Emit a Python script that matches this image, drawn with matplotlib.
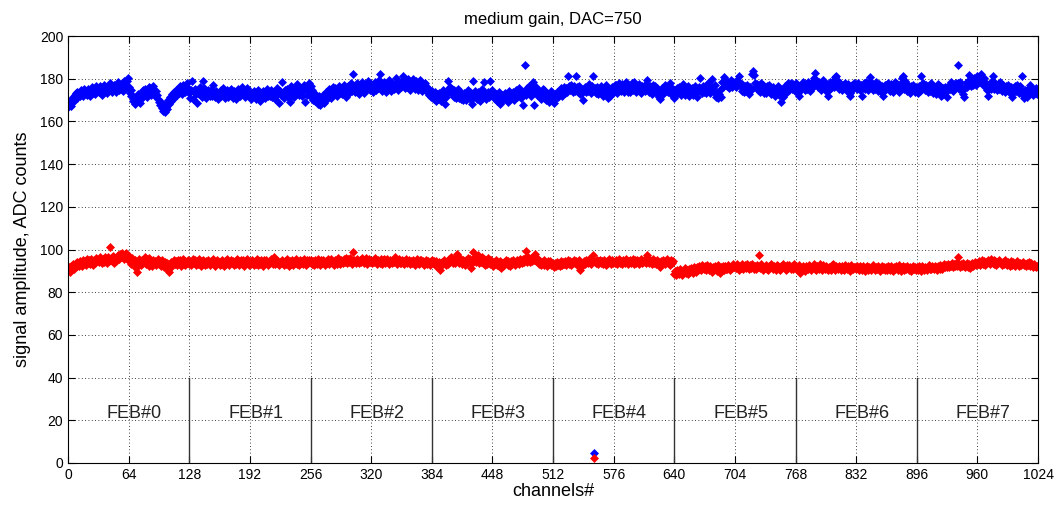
import numpy as np
import matplotlib.pyplot as plt

# signal amplitude per channel, medium gain, DAC=750 (32 channels per line)
blue_txt = """
166.8 168.2 169.5 167.1 170.3 171.6 169.8 172.4 173.1 171.2 174.0 172.7 173.5 171.9 174.6 173.2 172.1 175.3 173.8 174.4 172.6 175.1 173.9 171.8 174.7 176.2 173.4 175.0 174.1 172.9 176.8 174.3
175.2 173.6 176.4 174.8 172.5 175.9 177.1 174.2 175.6 173.3 176.7 174.9 178.2 175.4 173.8 176.1 174.5 177.3 175.8 173.9 176.6 178.4 174.7 176.9 175.1 177.6 174.3 178.9 176.2 175.5 179.1 180.4
176.3 173.2 171.8 174.5 172.1 169.4 170.8 168.3 171.5 169.9 172.7 170.2 168.8 173.4 171.1 174.6 172.9 175.2 173.7 171.4 174.8 176.1 173.3 175.5 172.6 174.2 176.8 173.9 171.7 174.4 172.3 170.6
169.2 167.5 168.9 166.3 165.1 167.8 164.2 166.6 168.4 165.7 170.1 168.2 171.3 169.5 172.8 170.7 173.6 171.9 174.9 172.4 175.3 173.1 176.5 174.2 172.7 177.1 175.4 173.8 176.2 174.6 178.0 175.7
173.5 171.2 174.8 178.8 170.6 173.9 175.2 172.7 168.5 174.1 172.8 176.3 173.0 171.5 174.4 179.0 175.6 173.7 170.9 172.5 174.9 173.3 171.8 174.6 172.1 177.2 173.8 171.3 174.2 172.6 170.4 173.5
172.4 174.7 171.9 173.6 175.8 172.3 170.8 173.1 174.5 171.6 173.9 172.2 175.1 173.4 171.2 174.3 172.7 170.5 173.8 175.4 172.1 174.0 171.7 173.3 176.0 172.8 174.6 171.4 173.2 175.5 172.5 174.1
172.9 170.7 173.4 171.8 174.2 172.5 170.3 173.7 171.1 174.8 172.4 169.6 173.0 171.5 174.1 172.2 170.9 173.6 175.3 171.7 173.2 172.0 174.6 171.3 173.8 172.6 170.4 174.3 172.1 175.7 173.1 168.6
174.2 172.4 178.5 173.5 171.2 174.7 172.8 175.4 173.1 170.9 168.9 176.6 172.7 174.9 173.3 171.6 175.2 173.8 177.5 174.1 172.3 175.7 173.6 171.8 174.5 176.9 169.0 175.3 172.6 174.8 178.1 175.0
176.4 171.3 174.6 170.2 173.1 169.5 172.4 170.8 168.1 171.7 167.9 170.3 169.2 172.5 168.6 171.4 173.8 170.6 174.2 172.1 175.3 173.4 171.2 174.7 176.1 172.8 175.5 173.6 171.9 174.3 176.8 173.1
175.2 172.7 174.9 177.3 173.5 175.8 171.6 174.1 176.4 173.2 175.7 178.1 174.4 182.0 176.3 173.9 175.6 177.8 174.2 172.9 176.1 174.7 178.3 175.1 173.4 176.9 174.5 177.2 175.3 179.0 176.2 174.6
177.4 175.1 173.8 176.6 178.5 174.9 177.1 175.5 179.2 182.3 176.8 174.3 177.6 175.2 178.7 176.1 173.7 177.9 175.4 179.6 176.5 174.2 178.1 176.9 175.3 177.7 180.2 176.4 174.8 178.3 176.0 177.5
175.9 179.1 181.5 177.3 175.6 178.6 176.2 179.8 177.1 174.9 178.4 176.7 180.1 177.6 175.3 178.9 176.4 174.6 177.8 175.7 179.3 176.1 174.4 177.2 175.0 178.2 176.3 173.9 175.8 172.6 174.1 171.4
174.3 172.1 170.6 173.8 171.2 169.4 172.7 170.3 173.5 171.8 169.7 172.2 174.6 170.9 168.2 171.5 173.1 178.8 175.6 176.2 173.7 175.1 172.4 174.8 171.6 173.3 170.8 172.9 175.4 171.1 173.6 170.5
172.8 170.2 173.4 171.7 169.9 172.3 174.5 171.1 173.8 170.6 172.9 168.4 178.9 171.5 174.2 172.0 170.4 173.6 171.3 169.8 172.7 175.1 171.9 178.6 173.2 170.7 172.5 174.0 171.4 173.7 179.1 172.2
174.6 171.8 173.2 170.5 172.9 169.6 171.3 173.7 168.1 170.8 172.4 169.9 171.6 173.5 170.3 172.1 169.2 171.7 174.3 170.6 172.8 171.0 173.9 170.2 172.6 174.8 171.4 173.1 175.5 172.3 170.9 174.0
167.9 173.4 186.3 174.7 172.2 175.6 173.1 176.8 174.4 171.9 175.2 178.7 167.8 173.6 176.1 172.5 174.9 171.7 173.8 170.4 172.9 175.3 171.2 174.6 172.8 170.1 173.5 171.6 169.2 172.3 174.1 170.8
170.3 168.5 172.8 170.9 173.6 171.4 174.2 172.7 175.5 173.1 171.8 174.9 176.3 173.4 175.7 174.0 181.4 176.8 174.5 177.2 175.1 173.6 176.4 174.3 181.2 175.9 173.8 176.6 174.1 172.7 175.3 173.5
170.2 174.8 176.3 173.7 175.9 174.1 177.4 175.2 173.5 176.7 181.1 4.5 175.8 173.2 176.1 174.6 172.8 175.4 173.9 176.5 174.3 172.1 175.7 173.4 177.2 175.0 170.8 173.6 171.9 174.7 176.2 173.3
175.6 177.3 174.8 176.9 173.5 175.4 178.2 176.1 174.3 177.6 175.2 173.8 176.4 178.5 175.7 174.0 176.8 173.9 175.5 177.9 174.6 176.3 178.7 175.1 173.7 176.2 174.5 177.4 175.9 173.3 176.6 174.9
176.4 174.2 177.7 179.4 175.3 173.6 176.8 174.5 172.9 175.7 177.2 174.1 176.5 173.4 175.8 174.0 171.6 170.3 173.2 175.6 172.8 174.9 177.1 174.4 176.3 173.7 175.5 178.1 176.2 174.3 172.6 175.0
171.2 174.5 172.8 175.6 173.4 176.2 174.1 172.6 175.3 177.4 174.7 172.2 175.8 173.6 176.5 174.3 171.8 174.9 173.1 175.7 172.5 174.4 176.8 173.8 171.4 174.2 176.1 180.2 175.4 173.3 176.6 174.0
175.5 173.2 176.4 174.6 177.9 175.1 173.4 176.2 179.8 175.7 174.0 176.9 171.3 173.5 170.9 172.8 174.6 171.6 178.4 176.3 178.9 180.6 177.2 179.1 176.5 178.3 175.8 177.6 179.4 176.1 178.7 177.0
178.5 176.2 179.3 177.4 181.1 178.2 176.7 174.3 177.5 175.1 173.6 176.8 174.2 177.3 175.6 172.9 176.1 174.5 182.4 183.6 181.7 178.2 175.9 177.6 174.8 176.5 173.7 175.4 177.8 174.6 176.9 173.2
175.7 173.4 176.6 174.1 177.2 175.5 172.8 174.9 176.3 173.6 171.9 175.2 173.8 176.7 174.4 172.3 175.1 169.2 173.5 171.6 174.3 176.8 173.1 175.6 177.9 174.8 176.4 178.2 175.3 177.6 175.9 174.2
176.5 178.1 175.3 173.2 171.8 174.6 177.2 175.8 178.4 176.1 174.7 177.5 175.2 178.6 176.9 174.4 177.8 175.6 179.1 177.3 180.2 182.8 179.6 177.4 175.9 178.3 176.7 174.5 177.1 179.4 176.2 178.0
175.4 173.6 171.9 176.2 178.5 175.7 177.9 176.3 178.8 176.1 180.7 181.3 179.2 177.6 175.1 177.8 176.4 174.9 177.3 175.5 178.1 176.6 174.2 177.4 175.8 173.5 171.7 174.8 177.0 175.3 178.2 176.0
177.5 175.2 178.1 176.4 174.7 177.3 171.8 175.6 177.9 175.1 178.4 176.2 174.5 177.6 175.9 180.6 178.3 176.5 174.9 177.2 175.4 178.7 176.1 174.3 177.5 175.7 173.6 176.8 171.9 174.4 176.9 175.2
177.3 175.6 178.2 176.1 174.3 177.4 175.8 173.9 176.6 178.5 175.2 177.7 175.4 173.8 176.3 178.1 180.4 181.2 177.6 175.3 178.8 176.4 174.1 177.2 175.7 173.4 176.5 174.8 177.1 175.0 173.6 176.2
175.8 173.5 176.7 174.2 181.3 177.6 175.4 178.1 176.3 174.6 177.2 175.1 173.8 176.5 174.3 177.9 175.7 173.4 176.2 174.8 172.9 175.6 177.4 174.1 176.8 173.7 171.9 172.2 175.5 173.6 176.1 174.4
171.6 174.9 177.3 175.2 178.6 176.4 174.1 177.5 175.8 178.2 176.6 186.4 177.9 175.3 178.4 176.1 174.7 172.8 171.4 175.5 177.8 176.2 179.1 181.6 178.3 176.7 179.4 177.2 180.3 178.5 176.9 179.7
181.4 179.2 180.8 178.6 182.1 179.5 177.3 180.2 178.4 176.1 174.6 171.8 175.3 177.6 175.1 178.9 181.5 177.7 175.4 178.2 176.3 174.5 177.4 175.2 178.6 176.8 174.3 177.1 175.6 173.9 176.4 174.8
177.2 175.1 173.4 176.3 174.6 171.5 175.8 173.7 176.5 174.2 177.3 175.4 173.1 176.6 174.8 181.2 172.3 171.1 174.5 172.8 171.6 175.2 172.9 174.7 177.1 173.6 175.3 172.4 174.9 173.2 175.6 172.7
"""

red_txt = """
90.4 91.8 89.7 92.5 91.2 93.1 90.8 92.7 93.6 92.1 94.3 93.0 92.4 94.8 93.5 92.2 95.1 93.8 94.6 92.9 95.4 93.7 94.9 93.3 95.6 94.1 92.8 95.2 94.5 93.6 96.1 94.7
95.3 94.0 96.4 94.8 93.5 95.7 94.2 96.6 95.1 93.9 96.3 94.6 101.2 95.8 94.4 96.9 95.2 93.8 96.1 94.7 95.9 97.2 95.4 97.8 96.3 98.4 97.1 95.6 97.5 98.6 96.2 95.0
96.8 94.9 95.7 93.4 96.2 94.1 92.6 95.3 91.4 89.6 93.7 95.5 94.2 92.8 95.1 93.6 94.7 96.3 93.2 95.4 94.0 92.5 95.8 93.9 94.6 92.3 95.2 93.5 94.8 92.9 94.1 95.6
93.2 94.7 92.4 95.1 93.6 91.8 94.3 92.7 93.9 91.5 90.3 89.5 92.6 94.2 92.1 93.8 95.0 93.3 94.6 92.8 95.3 93.7 94.9 92.5 94.1 95.6 93.4 94.8 92.9 94.3 93.6 95.2
93.1 94.6 92.7 94.2 95.4 93.5 94.9 92.8 94.4 93.2 95.6 94.1 92.5 94.7 93.3 95.1 93.8 92.6 94.5 93.4 95.3 94.0 92.9 94.8 93.6 95.5 94.2 92.4 93.9 95.2 93.7 94.3
92.8 94.5 93.2 95.0 93.7 92.3 94.6 93.4 95.7 94.1 92.7 93.9 95.3 93.5 94.8 92.6 94.2 93.1 95.4 94.3 92.9 94.7 93.6 95.1 93.3 94.9 92.5 94.4 93.8 95.5 94.0 92.8
94.6 93.3 95.2 93.9 92.7 94.8 93.4 95.6 94.2 92.9 94.5 93.1 95.3 93.8 92.4 94.9 93.6 95.0 94.3 92.8 94.1 93.5 95.7 94.4 93.0 96.6 94.7 93.2 95.1 93.7 94.5 92.9
94.2 93.6 95.3 94.0 92.6 94.7 93.3 95.5 93.9 92.5 94.8 93.4 95.1 94.2 92.9 94.6 93.7 95.4 93.1 94.3 92.7 95.0 93.8 94.5 93.2 95.6 94.1 92.8 94.9 93.5 95.2 94.4
93.8 95.1 93.4 94.7 92.9 95.3 94.0 93.3 95.5 94.2 92.6 94.9 93.7 95.0 94.4 92.8 94.6 93.5 95.4 94.1 93.0 94.8 95.7 93.6 94.3 92.7 95.2 94.5 93.2 95.8 94.0 93.4
95.1 94.3 93.5 95.6 94.0 96.2 94.7 93.8 95.4 94.1 96.0 94.6 93.3 98.7 95.2 94.4 93.6 95.5 94.8 93.9 95.3 94.2 96.1 94.5 93.7 95.0 94.1 95.8 93.4 94.9 95.6 94.3
94.7 93.6 95.3 94.1 96.0 94.5 93.4 95.2 94.8 93.7 95.6 94.2 93.1 94.9 95.4 93.8 94.6 95.7 94.0 93.3 95.1 94.4 93.5 95.0 94.3 96.3 94.6 93.2 94.8 95.5 93.9 94.5
93.8 95.2 94.4 93.1 94.7 95.6 93.6 94.2 95.0 93.4 94.8 93.9 95.3 94.1 92.8 94.5 95.4 93.7 94.3 93.0 94.9 95.1 93.5 94.6 92.9 94.0 95.2 93.3 94.7 93.8 92.6 94.4
95.0 93.6 94.5 93.1 92.4 94.8 93.5 92.7 94.2 90.4 92.9 94.1 93.4 95.3 94.0 92.8 94.6 93.2 95.4 94.3 96.7 94.9 93.8 95.5 94.2 93.6 95.1 97.9 94.7 93.5 95.8 94.4
93.3 95.2 94.6 92.8 94.9 93.7 96.1 94.4 95.6 91.2 93.9 95.3 98.8 94.5 96.4 94.0 95.7 97.6 93.6 95.1 94.2 96.3 93.8 95.4 92.9 94.7 93.4 95.9 94.1 93.0 94.6 95.2
93.7 92.5 94.3 93.1 95.0 92.8 93.9 92.4 94.6 91.3 93.5 92.2 94.1 93.0 95.2 93.6 92.7 94.8 93.4 92.3 94.5 93.2 95.3 94.0 92.6 93.8 95.1 94.4 93.3 95.7 94.2 93.5
95.4 94.1 96.2 99.3 95.0 94.3 96.5 95.6 94.2 96.0 94.8 96.7 95.3 97.9 94.6 95.8 94.0 93.2 94.7 92.6 94.3 93.5 95.1 92.9 94.0 93.3 92.5 94.4 93.1 94.8 92.7 93.9
93.0 91.8 93.6 92.4 94.1 92.9 93.5 92.2 94.4 93.1 92.6 94.0 93.3 94.7 92.8 93.9 95.0 93.4 94.6 92.7 94.2 93.5 95.3 93.8 94.5 92.9 93.7 95.1 94.0 90.5 93.2 92.5
93.4 94.8 93.1 95.2 94.0 93.6 95.4 94.3 93.2 94.9 97.5 2.3 94.1 93.5 95.0 94.4 93.0 94.7 95.3 93.8 94.5 93.3 95.1 94.2 92.9 94.6 93.7 95.5 94.1 93.4 94.9 93.6
94.3 93.5 95.0 94.6 93.2 94.8 95.6 93.9 94.4 93.1 95.2 94.0 93.6 95.4 94.7 93.3 94.5 95.1 93.8 94.2 95.7 94.1 93.4 94.9 93.7 95.3 94.4 93.0 94.6 95.5 93.8 94.2
95.0 94.3 93.6 97.4 94.8 93.5 95.2 94.1 93.3 94.7 95.4 93.9 94.5 93.2 95.1 94.0 93.4 91.8 94.6 93.7 95.3 94.2 93.1 94.8 95.5 93.6 94.3 92.7 94.0 95.2 93.8 94.4
88.6 89.8 87.9 90.4 89.2 88.4 90.7 89.5 88.1 90.1 89.3 91.2 88.8 90.5 89.6 88.3 90.9 89.7 91.4 90.2 89.0 91.6 90.4 89.4 91.8 90.6 92.4 91.1 90.3 92.7 91.5 90.8
92.1 91.3 90.5 92.6 91.7 90.2 92.3 91.0 89.3 91.9 90.7 92.4 91.5 90.1 92.8 91.2 89.0 91.8 90.6 92.2 91.4 90.3 92.5 91.1 90.8 92.9 91.6 90.4 92.0 91.3 93.1 91.9
92.4 91.2 93.0 91.8 90.6 92.5 91.4 93.3 92.1 90.9 91.7 92.8 91.5 93.4 92.2 91.0 92.6 91.3 93.1 91.9 90.7 92.3 91.1 92.9 91.6 97.4 92.5 91.2 93.2 91.8 90.5 92.0
91.4 92.7 91.1 90.3 92.4 91.6 93.0 91.9 90.8 92.2 91.5 90.6 92.9 91.3 92.5 91.0 90.2 92.1 91.7 93.2 92.0 91.2 90.5 92.6 91.4 92.8 91.8 90.7 92.3 91.1 93.0 91.6
90.9 92.3 91.5 90.4 92.7 88.9 91.2 90.6 92.1 91.3 90.1 92.5 91.7 90.8 92.9 91.4 90.2 92.0 91.6 93.1 92.2 91.0 90.5 92.4 91.8 90.7 93.0 91.5 90.3 92.6 91.2 90.9
92.3 91.1 90.5 92.0 91.6 90.3 92.7 91.4 93.2 91.8 90.6 92.1 91.3 90.8 92.5 91.7 90.2 92.4 91.0 90.4 92.8 91.5 90.9 92.2 91.2 90.1 91.9 92.6 91.4 90.7 92.0 91.6
90.8 92.3 91.5 90.2 92.1 91.3 90.6 92.5 91.0 89.9 91.7 92.4 91.1 90.5 92.0 91.4 90.3 91.9 92.6 91.2 90.4 91.8 90.9 92.2 91.5 90.1 91.7 92.3 90.8 91.6 90.2 92.0
91.3 90.5 92.1 91.7 90.3 92.4 91.0 89.8 91.6 90.9 92.2 91.4 90.6 92.7 91.2 90.1 91.8 92.5 91.1 90.4 91.9 90.7 92.3 91.5 90.2 91.7 90.0 91.4 92.1 90.8 91.6 90.3
91.9 90.6 92.2 91.3 90.1 91.7 92.4 91.0 90.5 92.0 91.5 90.2 91.8 92.6 91.1 90.7 92.3 91.4 90.9 92.5 91.6 90.4 92.1 91.2 90.8 92.7 91.5 91.0 92.4 93.1 91.8 92.6
92.0 93.3 91.7 92.8 92.2 93.6 91.9 93.0 92.5 93.8 92.1 96.6 92.7 93.4 91.8 93.1 92.4 93.7 92.2 91.6 92.9 93.5 92.0 93.2 91.5 92.6 93.9 92.3 93.0 94.2 92.8 93.6
93.9 93.1 94.5 92.7 94.0 95.3 93.4 94.8 92.9 94.2 93.6 95.1 94.4 93.2 95.6 94.7 93.8 95.0 93.3 94.6 92.8 94.1 93.5 95.2 94.0 93.7 92.6 94.3 93.1 94.9 93.4 92.7
94.1 93.3 92.5 94.4 93.7 92.9 94.0 93.2 92.4 93.8 94.6 93.0 92.3 93.9 92.7 93.5 94.2 92.8 93.4 92.1 93.6 92.6 94.0 93.1 92.2 93.7 92.9 91.8 93.3 92.5 91.9 92.4
"""

blue_lines = [l.split() for l in blue_txt.strip().splitlines()]
red_lines = [l.split() for l in red_txt.strip().splitlines()]
blue = np.array([float(v) for l in blue_lines for v in l])
red = np.array([float(v) for l in red_lines for v in l])

channels = np.arange(len(blue))
feb_names = ['FEB#0', 'FEB#1', 'FEB#2', 'FEB#3', 'FEB#4', 'FEB#5', 'FEB#6', 'FEB#7']
feb_bounds = [128, 256, 384, 512, 640, 768, 896]

plt.rcParams['font.family'] = ['Liberation Sans', 'DejaVu Sans']

fig = plt.figure(figsize=(10.64, 5.15), dpi=100)
ax = fig.add_axes([0.0639, 0.101, 0.9117, 0.829])

ax.plot(channels, blue, 'D', color='blue', markersize=3.6, markeredgewidth=0.5)
ax.plot(channels, red, 'D', color='red', markersize=3.6, markeredgewidth=0.5)

# границы FEB и подписи
for b in feb_bounds:
    ax.plot([b, b], [0, 40], color='#333333', linewidth=1.0)
for i, name in enumerate(feb_names):
    ax.text(128 * i + 70, 23, name, ha='center', va='center', fontsize=13, color='#222222')

ax.set_xlim(0, 1024)
ax.set_ylim(0, 200)
ax.set_xticks(np.arange(0, 1025, 64))
ax.set_yticks(np.arange(0, 201, 20))
ax.grid(True, color='black', linestyle=(0, (1, 3)), linewidth=0.6)
ax.tick_params(direction='in', length=5, top=True, right=True, labelsize=10)
for s in ax.spines.values():
    s.set_linewidth(0.8)

ax.set_title('medium gain, DAC=750', fontsize=12, pad=9)
ax.set_xlabel('channels#', fontsize=13, labelpad=1)
ax.set_ylabel('signal amplitude, ADC counts', fontsize=13, labelpad=6)

fig.savefig('out.png', dpi=100)
